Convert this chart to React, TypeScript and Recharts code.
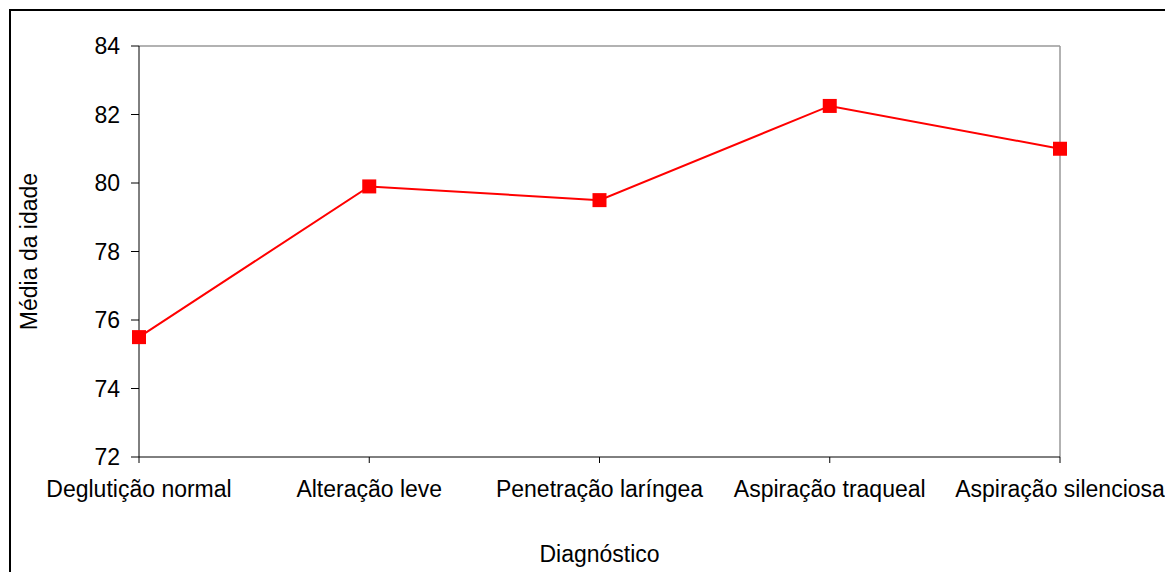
import { CartesianGrid, Line, LineChart, ReferenceLine, XAxis, YAxis } from "recharts";

const categories = [
  "Deglutição normal",
  "Alteração leve",
  "Penetração laríngea",
  "Aspiração traqueal",
  "Aspiração silenciosa",
];
const meanAge = [75.5, 79.9, 79.5, 82.25, 81.0];
const yTicks = [72, 74, 76, 78, 80, 82, 84];

const data = categories.map((diagnostico, i) => ({ diagnostico, media: meanAge[i] }));

const FONT = "'Liberation Sans', Arial, sans-serif";

function SquareDot(props: { cx?: number; cy?: number; index?: number }) {
  const { cx, cy, index } = props;
  if (cx == null || cy == null) return null;
  return <rect key={`dot-${index}`} x={cx - 7} y={cy - 7} width={14} height={14} fill="#ff0000" />;
}

export default function App() {
  return (
    <div style={{ position: "relative", width: 1165, height: 564, overflow: "hidden", fontFamily: FONT }}>
      <div
        style={{
          position: "absolute",
          left: 1,
          top: 1,
          width: 1200,
          height: 600,
          border: "2px solid #000",
          boxSizing: "border-box",
        }}
      />
      <div style={{ position: "absolute", left: 0, top: 0 }}>
        <LineChart width={1165} height={564} data={data} margin={{ top: 38, right: 113, bottom: 85, left: 71 }}>
          <CartesianGrid horizontal={false} vertical={false} />
          <XAxis
            dataKey="diagnostico"
            interval={0}
            tickSize={6}
            tickMargin={18}
            stroke="#000"
            tick={{ fill: "#000", fontSize: 23, fontFamily: FONT }}
            label={{
              value: "Diagnóstico",
              position: "insideBottom",
              offset: -75,
              fill: "#000",
              fontSize: 23,
              fontFamily: FONT,
            }}
          />
          <YAxis
            width={60}
            domain={[72, 84]}
            ticks={yTicks}
            tickSize={8}
            tickMargin={11}
            stroke="#000"
            tick={{ fill: "#000", fontSize: 23, fontFamily: FONT }}
            label={{
              value: "Média da idade",
              angle: -90,
              position: "insideLeft",
              offset: -50,
              fill: "#000",
              fontSize: 23,
              fontFamily: FONT,
              style: { textAnchor: "middle" },
            }}
          />
          <ReferenceLine y={84} stroke="#999" strokeWidth={1.5} />
          <ReferenceLine x="Aspiração silenciosa" stroke="#999" strokeWidth={1.5} />
          <Line
            type="linear"
            dataKey="media"
            stroke="#ff0000"
            strokeWidth={2}
            dot={<SquareDot />}
            activeDot={false}
            isAnimationActive={false}
          />
        </LineChart>
      </div>
    </div>
  );
}
